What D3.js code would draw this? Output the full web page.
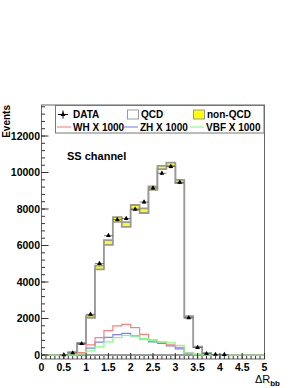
<!DOCTYPE html>
<html>
<head>
<meta charset="utf-8">
<script src="https://cdn.jsdelivr.net/npm/d3@7"></script>
<style>
  body { margin: 0; background: #fff; }
  text { font-family: "Liberation Sans", Arial, sans-serif; font-weight: bold; fill: #000; }
</style>
</head>
<body>
<div id="chart"></div>
<script>
// bins of 0.2 in Delta R_bb
const binLow = [0, 0.2, 0.4, 0.6, 0.8, 1.0, 1.2, 1.4, 1.6, 1.8, 2.0, 2.2, 2.4, 2.6, 2.8, 3.0, 3.2, 3.4, 3.6, 3.8, 4.0, 4.2, 4.4, 4.6, 4.8];
const binWidth = 0.2;

const qcd    = [0, 0, 0, 130, 600, 2030, 4690, 6030, 7300, 7020, 7960, 7780, 9050, 10185, 10365, 9420, 2030, 430, 90, 10, 0, 0, 0, 0, 0];
const nonQcd = [0, 0, 0, 20, 60, 130, 210, 270, 250, 260, 260, 260, 190, 180, 180, 180, 100, 30, 10, 0, 0, 0, 0, 0, 0];
const dataCounts = [null, null, 5, 110, 620, 2230, 5010, 6540, 7420, 7480, 7990, 8380, 9150, 9960, 10330, 9460, 2040, 410, 70, 30, 20, null, null, null, null];

// signals scaled x 1000
const wh  = [0, 0, 0, 20, 130, 550, 950, 1330, 1600, 1680, 1500, 1130, 820, 700, 560, 420, 90, 30, 10, 5, 0, 0, 0, 0, 0];
const zh  = [0, 0, 0, 20, 120, 380, 700, 960, 1120, 1180, 1050, 880, 720, 640, 500, 340, 100, 40, 15, 5, 0, 0, 0, 0, 0];
const vbf = [0, 0, 0, 10, 60, 230, 440, 720, 950, 1080, 1030, 900, 800, 700, 660, 530, 110, 40, 20, 10, 5, 0, 0, 0, 0];

const yTicks = [0, 2000, 4000, 6000, 8000, 10000, 12000];
const xTicks = [0, 0.5, 1, 1.5, 2, 2.5, 3, 3.5, 4, 4.5, 5];

const width = 300, height = 388;
const margin = {top: 105, bottom: 29, left: 41.5, right: 35.5};

const svg = d3.select("#chart").append("svg")
  .attr("width", width)
  .attr("height", height);

const x = d3.scaleLinear().domain([0, 5]).range([margin.left, width - margin.right]);
const y = d3.scaleLinear().domain([-220, 13700]).range([height - margin.bottom, margin.top]);

// step points from a bin array
function steps(vals) {
  const pts = binLow.map((b, i) => [b, vals[i]]);
  pts.push([binLow[binLow.length - 1] + binWidth, vals[vals.length - 1]]);
  return pts;
}

const area = d3.area()
  .curve(d3.curveStepAfter)
  .x(d => x(d[0]))
  .y0(y(0))
  .y1(d => y(d[1]));

const line = d3.line()
  .curve(d3.curveStepAfter)
  .x(d => x(d[0]))
  .y(d => y(d[1]));

const total = qcd.map((v, i) => v + nonQcd[i]);

// stack: sum first (yellow), then QCD on top (white)
svg.append("path")
  .attr("d", area(steps(total)))
  .attr("fill", "#ffff00")
  .attr("stroke", "#999")
  .attr("stroke-width", 1.8);

svg.append("path")
  .attr("d", area(steps(qcd)))
  .attr("fill", "#fff")
  .attr("stroke", "#999")
  .attr("stroke-width", 1.8);

// signal lines
const signals = [
  {vals: zh, color: "#7f7fff"},
  {vals: wh, color: "#ff7f7f"},
  {vals: vbf, color: "#7fff7f"}
];
signals.forEach(s => {
  svg.append("path")
    .attr("d", line(steps(s.vals)))
    .attr("fill", "none")
    .attr("stroke", s.color)
    .attr("stroke-width", 1.2);
});

// data points
const tri = d3.symbol().type(d3.symbolTriangle).size(10);
const pts = binLow.map((b, i) => ({c: b + binWidth / 2, v: dataCounts[i]})).filter(d => d.v !== null);

svg.selectAll(".xerr")
  .data(pts)
  .join("line")
  .attr("x1", d => x(d.c - binWidth / 2))
  .attr("x2", d => x(d.c + binWidth / 2))
  .attr("y1", d => y(d.v))
  .attr("y2", d => y(d.v))
  .attr("stroke", "#555")
  .attr("stroke-width", 0.8);

svg.selectAll(".yerr")
  .data(pts)
  .join("line")
  .attr("x1", d => x(d.c))
  .attr("x2", d => x(d.c))
  .attr("y1", d => y(d.v + Math.sqrt(d.v)))
  .attr("y2", d => y(d.v - Math.sqrt(d.v)))
  .attr("stroke", "#000")
  .attr("stroke-width", 0.8);

svg.selectAll(".pt")
  .data(pts)
  .join("path")
  .attr("d", tri)
  .attr("transform", d => `translate(${x(d.c)},${y(d.v)})`)
  .attr("fill", "#000");

// frame
svg.append("rect")
  .attr("x", margin.left)
  .attr("y", margin.top)
  .attr("width", width - margin.left - margin.right)
  .attr("height", height - margin.top - margin.bottom)
  .attr("fill", "none")
  .attr("stroke", "#666")
  .attr("stroke-width", 1);

// axes (ticks pointing inside, ROOT style)
const yMinor = d3.range(-0, 13700, 400);
const xMinor = d3.range(0, 5.001, 0.1);

const yAxisG = svg.append("g").attr("transform", `translate(${margin.left},0)`);
yAxisG.selectAll(".ymin").data(yMinor).join("line")
  .attr("x1", 0).attr("x2", 3.5)
  .attr("y1", d => y(d)).attr("y2", d => y(d))
  .attr("stroke", "#333");
yAxisG.selectAll(".ymaj").data(yTicks).join("line")
  .attr("x1", 0).attr("x2", 7)
  .attr("y1", d => y(d)).attr("y2", d => y(d))
  .attr("stroke", "#333");
yAxisG.selectAll(".ylab").data(yTicks).join("text")
  .attr("x", -1.5)
  .attr("y", d => y(d))
  .attr("dy", "0.36em")
  .attr("text-anchor", "end")
  .attr("font-size", 10.5)
  .text(d => d);

const xBase = height - margin.bottom;
const xAxisG = svg.append("g");
xAxisG.selectAll(".xmin").data(xMinor).join("line")
  .attr("x1", d => x(d)).attr("x2", d => x(d))
  .attr("y1", xBase).attr("y2", xBase - 3)
  .attr("stroke", "#333");
xAxisG.selectAll(".xmaj").data(xTicks).join("line")
  .attr("x1", d => x(d)).attr("x2", d => x(d))
  .attr("y1", xBase).attr("y2", xBase - 6)
  .attr("stroke", "#333");
xAxisG.selectAll(".xlab").data(xTicks).join("text")
  .attr("x", d => x(d))
  .attr("y", xBase + 12)
  .attr("text-anchor", "middle")
  .attr("font-size", 10.5)
  .text(d => d);

// axis titles
svg.append("text")
  .attr("transform", `translate(9.5,${margin.top}) rotate(-90)`)
  .attr("text-anchor", "end")
  .attr("font-size", 10)
  .text("Events");

const xt = svg.append("text")
  .attr("x", 280)
  .attr("y", 383)
  .attr("text-anchor", "end")
  .attr("font-size", 11);
xt.append("tspan").style("font-weight", "normal").text("\u0394R");
xt.append("tspan").attr("font-size", 8).attr("dy", 3).text("bb");

svg.append("text")
  .attr("x", 67)
  .attr("y", 159.5)
  .attr("font-size", 11)
  .text("SS channel");

// legend
const lg = svg.append("g");
lg.append("rect")
  .attr("x", 55.5).attr("y", 105.5)
  .attr("width", 208.5).attr("height", 27.5)
  .attr("fill", "#fff")
  .attr("stroke", "#777");

const r1 = 114.5, r2 = 127;
// DATA
lg.append("line").attr("x1", 58).attr("x2", 68).attr("y1", r1).attr("y2", r1).attr("stroke", "#000");
lg.append("line").attr("x1", 63).attr("x2", 63).attr("y1", r1 - 4).attr("y2", r1 + 4).attr("stroke", "#000");
lg.append("path").attr("d", tri).attr("transform", `translate(63,${r1})`).attr("fill", "#000");
lg.append("text").attr("x", 73).attr("y", r1).attr("dy", "0.36em").attr("font-size", 10).text("DATA");
// QCD
lg.append("rect").attr("x", 127.5).attr("y", r1 - 4.5).attr("width", 11).attr("height", 9)
  .attr("fill", "#fff").attr("stroke", "#999");
lg.append("text").attr("x", 141).attr("y", r1).attr("dy", "0.36em").attr("font-size", 10).text("QCD");
// non-QCD
lg.append("rect").attr("x", 193.5).attr("y", r1 - 4.5).attr("width", 11).attr("height", 9)
  .attr("fill", "#ffff00").attr("stroke", "#999");
lg.append("text").attr("x", 207).attr("y", r1).attr("dy", "0.36em").attr("font-size", 10).text("non-QCD");

const sigLegend = [
  {label: "WH X 1000", color: "#ff9f9f", x0: 57},
  {label: "ZH X 1000", color: "#9f9fff", x0: 124},
  {label: "VBF X 1000", color: "#9fff9f", x0: 190}
];
sigLegend.forEach(s => {
  lg.append("line").attr("x1", s.x0).attr("x2", s.x0 + 14).attr("y1", r2).attr("y2", r2)
    .attr("stroke", s.color).attr("stroke-width", 1.5);
  lg.append("text").attr("x", s.x0 + 16).attr("y", r2).attr("dy", "0.36em").attr("font-size", 10).text(s.label);
});
</script>
</body>
</html>
